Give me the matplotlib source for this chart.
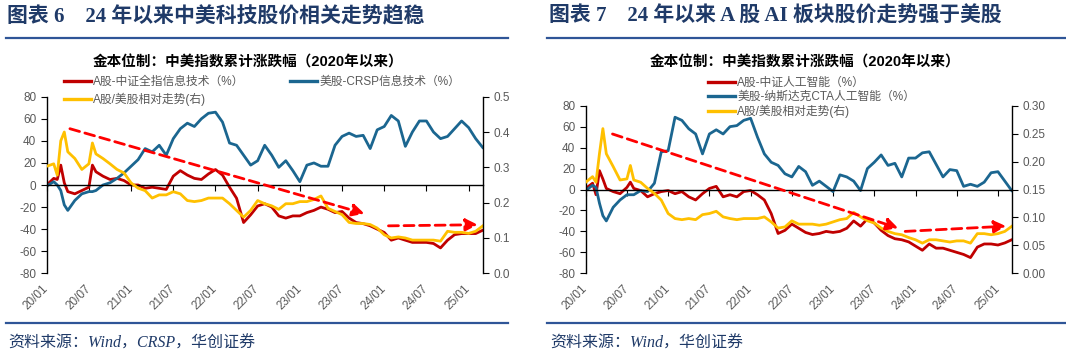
import matplotlib
matplotlib.use("Agg")
import matplotlib.pyplot as plt
from matplotlib.lines import Line2D

plt.rcParams["font.family"] = ["Liberation Sans", "Noto Sans CJK SC"]
plt.rcParams["axes.unicode_minus"] = False

W, H = 1066, 359

# x = months since 2020/01; three extra mid-month points keep the early spikes
months = [0, 1, 1.5, 2, 2.5, 3, 4, 5, 6, 6.5] + list(range(7, 63))
tick_months = [0, 6, 12, 18, 24, 30, 36, 42, 48, 54, 60]
tick_labels = ["20/01", "20/07", "21/01", "21/07", "22/01", "22/07",
               "23/01", "23/07", "24/01", "24/07", "25/01"]

# ---- figure 6: A-share IT vs CRSP IT ----
cn_it = [0, 6, 5, 18, 2, -6, -8, -5, -2, 18, 12, 8, 5, 6, 4, 0, 0, -3, -2, -3,
         -4, 8, 13, 9, 6, 5, 10, 14, 9, -2, -12, -34, -27, -19, -17, -20, -28,
         -30, -28, -28, -25, -23, -20, -22, -25, -24, -30, -34, -35, -37, -40,
         -43, -50, -48, -50, -52, -52, -52, -53, -57, -50, -45, -44, -44, -44, -41]
us_it = [-1, 3, 0, -5, -18, -23, -14, -8, -6, -6, -5, 0, 2, 6, 11, 17, 23, 33,
         30, 36, 27, 42, 51, 56, 53, 60, 65, 66, 57, 38, 36, 27, 18, 22, 36, 27,
         16, 22, 13, 3, 18, 20, 17, 17, 36, 44, 47, 44, 45, 33, 50, 53, 63, 58,
         35, 48, 58, 58, 48, 42, 44, 51, 58, 52, 42, 34]
rel_it = [0.303, 0.31, 0.278, 0.375, 0.40, 0.344, 0.325, 0.294, 0.31, 0.369,
          0.338, 0.325, 0.31, 0.294, 0.284, 0.256, 0.241, 0.234, 0.213, 0.222,
          0.222, 0.231, 0.225, 0.206, 0.203, 0.206, 0.213, 0.213, 0.213, 0.197,
          0.178, 0.159, 0.178, 0.206, 0.197, 0.191, 0.181, 0.197, 0.197, 0.203,
          0.203, 0.209, 0.219, 0.184, 0.175, 0.166, 0.144, 0.141, 0.141, 0.138,
          0.128, 0.109, 0.100, 0.103, 0.100, 0.094, 0.094, 0.094, 0.094, 0.091,
          0.119, 0.116, 0.116, 0.113, 0.119, 0.134]
# trend arrows (month, left-axis value) start -> end
arrows_it = [((3.3, 51), (45.2, -26)), ((48.6, -37), (61.3, -36))]

# ---- figure 7: A-share AI vs Nasdaq CTA AI ----
cn_ai = [1, 6, -5, 18, 10, 1, -2, -4, 2, 7, 1, -1, -7, -4, -2, -1, -4, -2, -7,
         -10, -4, 1, 3, -7, -5, -7, -2, -1, -5, -10, -23, -42, -39, -33, -37,
         -41, -43, -42, -40, -41, -40, -37, -30, -35, -28, -32, -39, -44, -47,
         -48, -50, -54, -58, -52, -56, -56, -58, -60, -62, -65, -55, -52, -52,
         -53, -51, -48]
us_ai = [-1, 4, 2, -13, -25, -30, -17, -10, -5, -5, -5, -1, -2, 6, 36, 37, 69,
         66, 58, 53, 34, 53, 57, 53, 60, 61, 66, 68, 50, 34, 26, 23, 15, 12, 22,
         17, 4, 8, 3, -2, 14, 12, 8, -1, 20, 26, 33, 23, 25, 12, 30, 30, 35, 36,
         24, 12, 19, 18, 3, 5, 3, 7, 16, 17, 8, -1]
rel_ai = [0.163, 0.173, 0.163, 0.214, 0.259, 0.214, 0.191, 0.167, 0.169, 0.193,
          0.167, 0.163, 0.152, 0.143, 0.131, 0.107, 0.098, 0.096, 0.098, 0.096,
          0.105, 0.107, 0.111, 0.101, 0.098, 0.096, 0.098, 0.098, 0.098, 0.101,
          0.092, 0.081, 0.083, 0.094, 0.088, 0.088, 0.088, 0.086, 0.088, 0.092,
          0.096, 0.098, 0.109, 0.101, 0.094, 0.090, 0.081, 0.075, 0.071, 0.069,
          0.064, 0.060, 0.054, 0.060, 0.060, 0.058, 0.056, 0.058, 0.058, 0.054,
          0.071, 0.071, 0.069, 0.071, 0.075, 0.084]
arrows_ai = [((3.9, 53), (45.5, -37)), ((46.5, -40), (61.2, -35))]

RED, BLUE, YELLOW = "#C00000", "#1B6690", "#FFC000"
NAVY, RULE, GREY = "#1F3A68", "#2F5597", "#595959"
CJK_SERIF = ["Liberation Serif", "Noto Sans CJK SC"]


def fx(x):
    return x / W


def fy(y):
    return 1 - y / H


def plot_panel(fig, box, cn, us, rel, rticks, rfmt, arrows, labels):
    x0, y0, x1, y1 = box
    ax = fig.add_axes([fx(x0), fy(y1), fx(x1 - x0), (y1 - y0) / H])
    axr = ax.twinx()

    l_cn, = ax.plot(months, cn, color=RED, lw=2.0, label=labels[0])
    l_us, = ax.plot(months, us, color=BLUE, lw=2.0, label=labels[1])
    l_rel, = axr.plot(months, rel, color=YELLOW, lw=2.0, label=labels[2])

    for (sx, sy), (ex, ey) in arrows:
        axr.annotate("", xy=(ex, ey), xytext=(sx, sy),
                     xycoords=ax.transData, textcoords=ax.transData,
                     arrowprops=dict(arrowstyle="-|>,head_length=0.55,head_width=0.28",
                                     ls=(0, (3.6, 2.0)), lw=2.0, color="#FF0000",
                                     mutation_scale=13, shrinkA=0, shrinkB=0))

    ax.set_xlim(0, 62)
    ax.set_ylim(-80, 80)
    ax.set_yticks(range(-80, 81, 20))
    axr.set_ylim(rticks[0], rticks[-1])
    axr.set_yticks(rticks)
    axr.set_yticklabels([rfmt.format(t) for t in rticks])

    for s in ("top", "right"):
        ax.spines[s].set_visible(False)
    for s in ("top", "left", "bottom"):
        axr.spines[s].set_visible(False)
    ax.spines["bottom"].set_position(("data", 0))
    ax.spines["bottom"].set_linewidth(1.0)
    ax.spines["left"].set_linewidth(1.0)
    axr.spines["right"].set_linewidth(1.0)

    ax.set_xticks(tick_months)
    ax.tick_params(axis="x", direction="out", length=4, width=0.8, labelbottom=False)
    ax.tick_params(axis="y", direction="out", length=4, width=0.8,
                   labelsize=8.5, labelcolor=GREY)
    axr.tick_params(axis="y", direction="out", length=4, width=0.8,
                    labelsize=8.5, labelcolor=GREY)

    sec = ax.secondary_xaxis("bottom")
    sec.spines["bottom"].set_visible(False)
    sec.set_xticks(tick_months)
    sec.set_xticklabels(tick_labels, rotation=45, ha="right", va="center",
                        rotation_mode="anchor", fontsize=8.5, color=GREY)
    sec.tick_params(axis="x", length=0, pad=10)
    return l_cn, l_us, l_rel


fig = plt.figure(figsize=(W / 100, H / 100), dpi=100)

# left panel
h6 = plot_panel(fig, (46.7, 96.7, 482.7, 273.3), cn_it, us_it, rel_it,
                [0.0, 0.1, 0.2, 0.3, 0.4, 0.5], "{:.1f}", arrows_it,
                ["A股-中证全指信息技术（%）", "美股-CRSP信息技术（%）", "A股/美股相对走势(右)"])
# right panel
h7 = plot_panel(fig, (585.7, 105.7, 1011.7, 273.3), cn_ai, us_ai, rel_ai,
                [0.0, 0.05, 0.10, 0.15, 0.20, 0.25, 0.30], "{:.2f}", arrows_ai,
                ["A股-中证人工智能（%）", "美股-纳斯达克CTA人工智能（%）", "A股/美股相对走势(右)"])

leg6 = fig.legend([h6[0], h6[2], h6[1]], [h.get_label() for h in (h6[0], h6[2], h6[1])],
                  loc="upper left", bbox_to_anchor=(fx(58), fy(70)), ncol=2,
                  frameon=False, fontsize=8.5, handlelength=2.3, handletextpad=0.2,
                  columnspacing=3.8, labelspacing=0.45, borderpad=0)
leg7 = fig.legend(list(h7), [h.get_label() for h in h7],
                  loc="upper left", bbox_to_anchor=(fx(702), fy(71)), ncol=1,
                  frameon=False, fontsize=8.5, handlelength=2.3, handletextpad=0.2,
                  labelspacing=0.15, borderpad=0)
for leg in (leg6, leg7):
    for t in leg.get_texts():
        t.set_color(GREY)
    for ln in leg.get_lines():
        ln.set_linewidth(2.4)

# headers, rules and sources
fig.text(fx(7), fy(17), "图表 6　24 年以来中美科技股价相关走势趋稳", family=CJK_SERIF,
         fontsize=15, weight="bold", color=NAVY, ha="left", va="center")
fig.text(fx(549), fy(17), "图表 7　24 年以来 A 股 AI 板块股价走势强于美股", family=CJK_SERIF,
         fontsize=15, weight="bold", color=NAVY, ha="left", va="center")
for xa, xb in ((6, 508), (547, 1066)):
    fig.add_artist(Line2D([fx(xa), fx(xb)], [fy(38.3)] * 2, color=RULE, lw=1.6))
    fig.add_artist(Line2D([fx(xa), fx(xb)], [fy(323.3)] * 2, color=RULE, lw=1.6))

fig.text(fx(248), fy(62), "金本位制：中美指数累计涨跌幅（2020年以来）",
         fontsize=10.5, weight="bold", color="black", ha="center", va="center")
fig.text(fx(805), fy(62), "金本位制：中美指数累计涨跌幅（2020年以来）",
         fontsize=10.5, weight="bold", color="black", ha="center", va="center")

fig.text(fx(8), fy(344), "资料来源：Wind，CRSP，华创证券", family=CJK_SERIF,
         fontsize=11.5, style="italic", color=NAVY, ha="left", va="center")
fig.text(fx(550), fy(344), "资料来源：Wind，华创证券", family=CJK_SERIF,
         fontsize=11.5, style="italic", color=NAVY, ha="left", va="center")

fig.savefig("out.png", dpi=100)
